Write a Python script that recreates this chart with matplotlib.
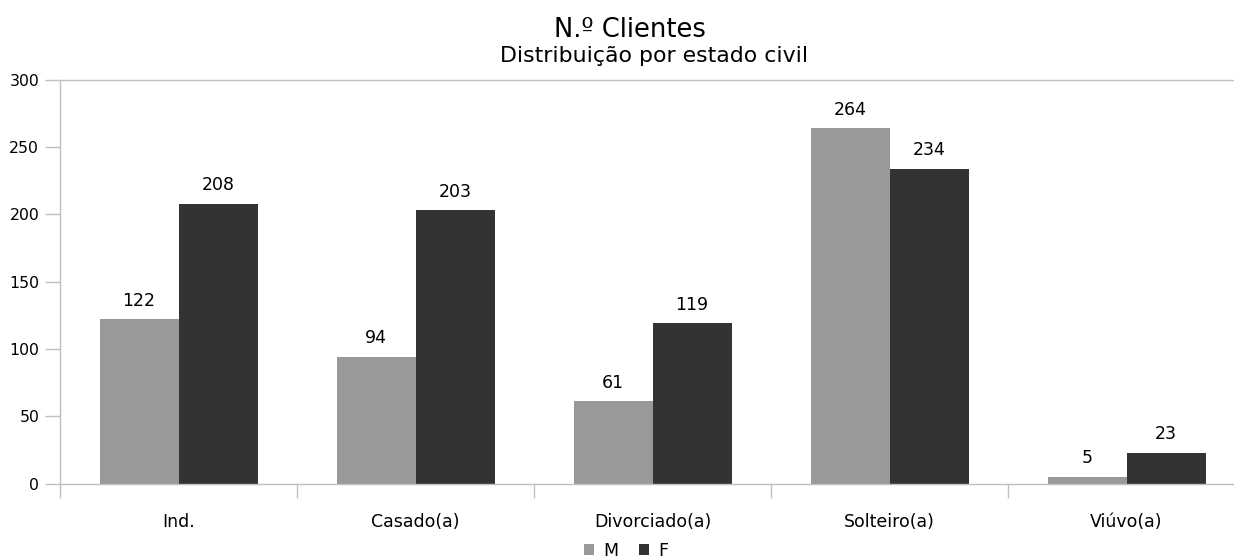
import matplotlib
matplotlib.use("Agg")
import matplotlib.pyplot as plt
import numpy as np

categories = ["Ind.", "Casado(a)", "Divorciado(a)", "Solteiro(a)", "Viúvo(a)"]
series_names = ["M", "F"]
values_m = [122, 94, 61, 264, 5]
values_f = [208, 203, 119, 234, 23]
y_ticks = [0, 50, 100, 150, 200, 250, 300]

plt.rcParams["font.family"] = ["DejaVu Sans"]

W, H = 1234, 558
fig = plt.figure(figsize=(W / 100, H / 100), dpi=100)
left, right, bottom, top = 60, 1245, 483.5, 80
ax = fig.add_axes([left / W, 1 - bottom / H, (right - left) / W, (bottom - top) / H])

x = np.arange(len(categories))
bw = 1 / 3
color_m, color_f = "#999999", "#333333"
bars_m = ax.bar(x - bw / 2, values_m, bw, color=color_m, label=series_names[0])
bars_f = ax.bar(x + bw / 2, values_f, bw, color=color_f, label=series_names[1])

for bars, vals in ((bars_m, values_m), (bars_f, values_f)):
    for b, v in zip(bars, vals):
        ax.annotate(f"{v}", (b.get_x() + b.get_width() / 2, v),
                    xytext=(0, 7), textcoords="offset points",
                    ha="center", va="bottom", fontsize=12.5, color="#000000")

ax.set_xlim(-0.5, len(categories) - 0.5)
ax.set_ylim(0, 300)
ax.set_yticks(y_ticks)
ax.set_xticks(x)
ax.set_xticklabels(categories, fontsize=12.5)
ax.set_xticks(np.arange(len(categories) + 1) - 0.5, minor=True)
ax.tick_params(axis="x", which="major", length=0, pad=21)
ax.tick_params(axis="x", which="minor", length=10, color="#BFBFBF", width=1)
ax.tick_params(axis="y", length=11, color="#BFBFBF", width=1, labelsize=11.3, pad=4)

axis_color = "#BFBFBF"
for side in ("left", "bottom", "top"):
    ax.spines[side].set_color(axis_color)
    ax.spines[side].set_linewidth(1)
ax.spines["right"].set_visible(False)

fig.text(630 / W, 1 - 37 / H, "N.º Clientes", ha="center", va="baseline", fontsize=18.5)
fig.text(654 / W, 1 - 62 / H, "Distribuição por estado civil", ha="center", va="baseline", fontsize=15.8)

fig.legend(handles=[bars_m, bars_f], labels=series_names, loc="center",
           bbox_to_anchor=(626 / W, 1 - 551 / H), ncol=2, frameon=False,
           fontsize=12.5, handlelength=0.6, handleheight=0.6, handletextpad=0.5,
           columnspacing=1.2)

fig.savefig("out.png", dpi=100, facecolor="white")
